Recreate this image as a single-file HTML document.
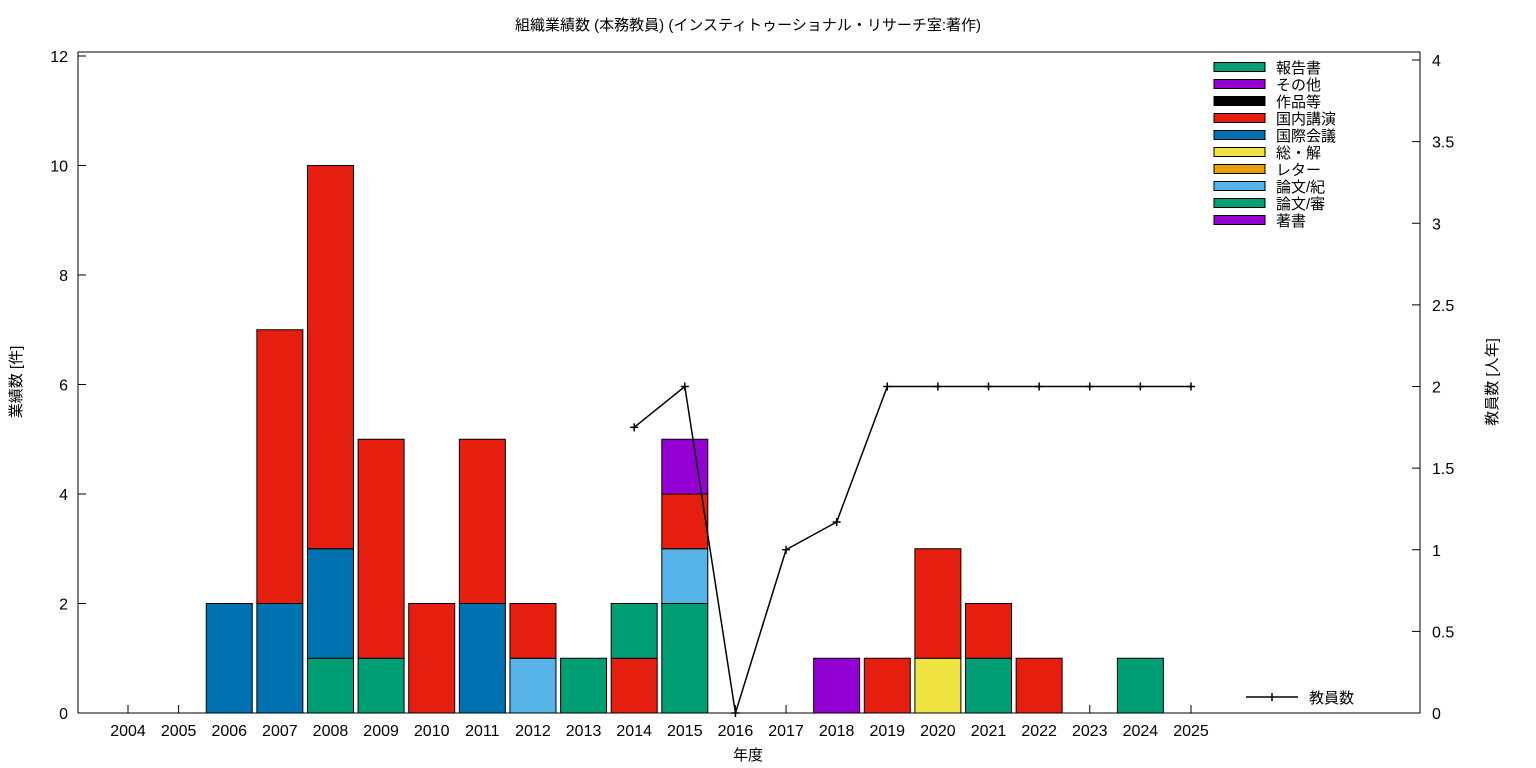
<!DOCTYPE html>
<html><head><meta charset="utf-8">
<style>
html,body{margin:0;padding:0;background:#fff;}
svg{display:block;font-family:"Liberation Sans","Noto Sans CJK JP",sans-serif;}
</style></head>
<body>
<svg id="chart" width="1536" height="768" xmlns="http://www.w3.org/2000/svg">
<text x="748" y="30" font-size="15" text-anchor="middle">組織業績数 (本務教員) (インスティトゥーショナル・リサーチ室:著作)</text>
<rect x="78" y="52" width="1342" height="661" fill="none" stroke="#000" stroke-width="1"/>
<g id="ticks"></g><g id="bars"></g><g id="line"></g><g id="legend"></g>
<text x="748" y="760" font-size="15" text-anchor="middle">年度</text>
<text transform="translate(21,382) rotate(-90)" font-size="15" text-anchor="middle">業績数 [件]</text>
<text transform="translate(1497,382) rotate(-90)" font-size="15" text-anchor="middle">教員数 [人年]</text>
</svg>
<script>
const years=[2004,2005,2006,2007,2008,2009,2010,2011,2012,2013,2014,2015,2016,2017,2018,2019,2020,2021,2022,2023,2024,2025];
const seriesNames=["著書","論文/審","論文/紀","レター","総・解","国際会議","国内講演","作品等","その他","報告書"];
const seriesColors=["#9400d3","#009e73","#56b4e9","#e69f00","#f0e442","#0072b2","#e51e10","#000000","#9400d3","#009e73"];
const chosho  =[0,0,0,0,0,0,0,0,0,0,0,0,0,0,1,0,0,0,0,0,0,0];
const ronshin =[0,0,0,0,1,1,0,0,0,1,0,2,0,0,0,0,0,1,0,0,1,0];
const ronki   =[0,0,0,0,0,0,0,0,1,0,0,1,0,0,0,0,0,0,0,0,0,0];
const letter  =[0,0,0,0,0,0,0,0,0,0,0,0,0,0,0,0,0,0,0,0,0,0];
const sokai   =[0,0,0,0,0,0,0,0,0,0,0,0,0,0,0,0,1,0,0,0,0,0];
const kokusai =[0,0,2,2,2,0,0,2,0,0,0,0,0,0,0,0,0,0,0,0,0,0];
const kokunai =[0,0,0,5,7,4,2,3,1,0,1,1,0,0,0,1,2,1,1,0,0,0];
const sakuhin =[0,0,0,0,0,0,0,0,0,0,0,0,0,0,0,0,0,0,0,0,0,0];
const sonota  =[0,0,0,0,0,0,0,0,0,0,0,1,0,0,0,0,0,0,0,0,0,0];
const hokoku  =[0,0,0,0,0,0,0,0,0,0,1,0,0,0,0,0,0,0,0,0,0,0];
const series=[chosho,ronshin,ronki,letter,sokai,kokusai,kokunai,sakuhin,sonota,hokoku];
const staffYears=[2014,2015,2016,2017,2018,2019,2020,2021,2022,2023,2024,2025];
const staff=[1.75,2,0,1,1.17,2,2,2,2,2,2,2];
const yTicks=[0,2,4,6,8,10,12];
const y2Ticks=["0","0.5","1","1.5","2","2.5","3","3.5","4"];

const NS="http://www.w3.org/2000/svg";
const X0=128, DX=(1191-128)/21, Y0=713;
const x=yr=>X0+(yr-2004)*DX;
const y=v=>Y0-v*54.75;
const y2=v=>Y0-v*163.25;
function mk(tag,attrs,parent){const e=document.createElementNS(NS,tag);for(const k in attrs)e.setAttribute(k,attrs[k]);parent.appendChild(e);return e;}
const gt=document.getElementById('ticks');
yTicks.forEach(t=>{
  mk('line',{x1:78,x2:86,y1:y(t),y2:y(t),stroke:'#000'},gt);
  const tx=mk('text',{x:68,y:y(t)+6,'font-size':16,'text-anchor':'end'},gt);tx.textContent=t;
  
  
});
y2Ticks.forEach(t=>{
  const v=parseFloat(t);
  mk('line',{x1:1412,x2:1420,y1:y2(v),y2:y2(v),stroke:'#000'},gt);
  const tx=mk('text',{x:1432,y:y2(v)+6,'font-size':16},gt);tx.textContent=t;
  
  
});
years.forEach(yr=>{
  mk('line',{x1:x(yr),x2:x(yr),y1:713,y2:705,stroke:'#000'},gt);
  const tx=mk('text',{x:x(yr),y:736,'font-size':16,'text-anchor':'middle'},gt);tx.textContent=yr;
  
  
});
const gb=document.getElementById('bars');
years.forEach((yr,i)=>{
  let acc=0;
  series.forEach((s,k)=>{
    const v=s[i]; if(!v) return;
    const r=mk('rect',{x:x(yr)-23,width:46,y:y(acc+v),height:y(acc)-y(acc+v),fill:seriesColors[k],stroke:'#000','stroke-width':1},gb);
    
    
    acc+=v;
  });
});
const gl=document.getElementById('line');
const pts=staffYears.map((yr,i)=>x(yr)+','+y2(staff[i])).join(' ');
const pl=mk('polyline',{points:pts,fill:'none',stroke:'#000','stroke-width':1.5},gl);


staffYears.forEach((yr,i)=>{
  const cx=x(yr),cy=y2(staff[i]);
  const p=mk('path',{d:`M${cx-4},${cy}H${cx+4}M${cx},${cy-4}V${cy+4}`,stroke:'#000','stroke-width':1.5},gl);
  
  
});
const lg=document.getElementById('legend');
for(let k=9,row=0;k>=0;k--,row++){
  const cy=67+row*17;
  const r=mk('rect',{x:1214,y:cy-4.5,width:51,height:9,fill:seriesColors[k],stroke:'#000'},lg);
  
  
  const t=mk('text',{x:1276,y:cy+6,'font-size':15},lg);t.textContent=seriesNames[k];
  
  
}
const ll=mk('path',{d:'M1246,697H1298M1272,693V701',stroke:'#000','stroke-width':1.5},lg);


const lt=mk('text',{x:1309,y:703,'font-size':15},lg);lt.textContent='教員数';


</script>
</body></html>
